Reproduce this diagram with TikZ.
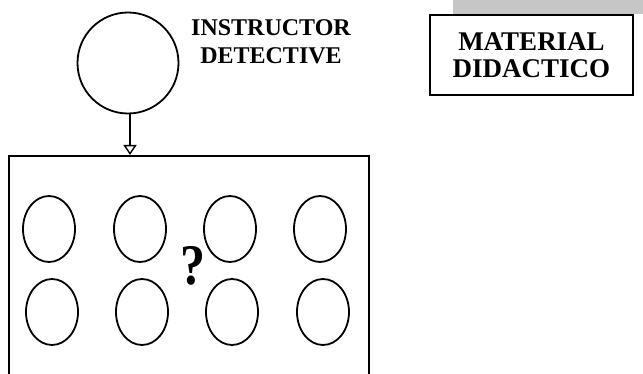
\documentclass[tikz,border=0pt]{standalone}
\usepackage{fontspec}
\setmainfont{Liberation Serif}
\usetikzlibrary{arrows.meta,shapes.geometric}
\tikzset{
  line/.style={line width=1.8pt, black},
  bigcirc/.style={line, draw, circle, minimum size=101pt, inner sep=0pt},
  smallcirc/.style={line, draw, ellipse, minimum width=52pt, minimum height=66pt, inner sep=0pt},
  label/.style={font=\fontsize{24}{28}\selectfont\bfseries, align=center, inner sep=0pt},
  matbox/.style={line, draw, rectangle, minimum width=203pt, minimum height=80pt, inner sep=0pt,
    font=\fontsize{27}{27}\selectfont\bfseries, align=center},
  pointer/.style={line width=1.5pt, -{Triangle[open, width=13pt, length=10pt, line width=1.4pt]}}
}
\begin{document}
\begin{tikzpicture}[x=1pt,y=-1pt]
\useasboundingbox (0,0) rectangle (643,374);
\clip (0,0) rectangle (643,374);
% grey band above the material box
\fill[gray!45] (453,0) rectangle (643,14);
\node[matbox] (mat) at (531.5,55) {MATERIAL\\DIDACTICO};
\node[bigcirc] (instr) at (128,63) {};
\node[label] (lab) at (271,42) {INSTRUCTOR\\DETECTIVE};
% main box, open below the picture edge
\node[line, draw, rectangle, minimum width=360pt, minimum height=260pt, inner sep=0pt, anchor=north west] (box) at (8,155) {};
\coordinate (tip) at (130,155);
\coordinate (start) at (130,113.5);
\draw[pointer] (start) -- (tip);
% small circles
\node[smallcirc] (c1) at (49,229) {};
\node[smallcirc] (c2) at (140,229) {};
\node[smallcirc] (c3) at (230,229) {};
\node[smallcirc] (c4) at (320,229) {};
\node[smallcirc] (c5) at (52,312) {};
\node[smallcirc] (c6) at (142,312) {};
\node[smallcirc] (c7) at (232,312) {};
\node[smallcirc] (c8) at (323,312) {};
\node[font=\fontsize{50}{50}\selectfont\bfseries, inner sep=0pt, yscale=1.15] (q) at (193,266) {?};
\end{tikzpicture}
\end{document}
